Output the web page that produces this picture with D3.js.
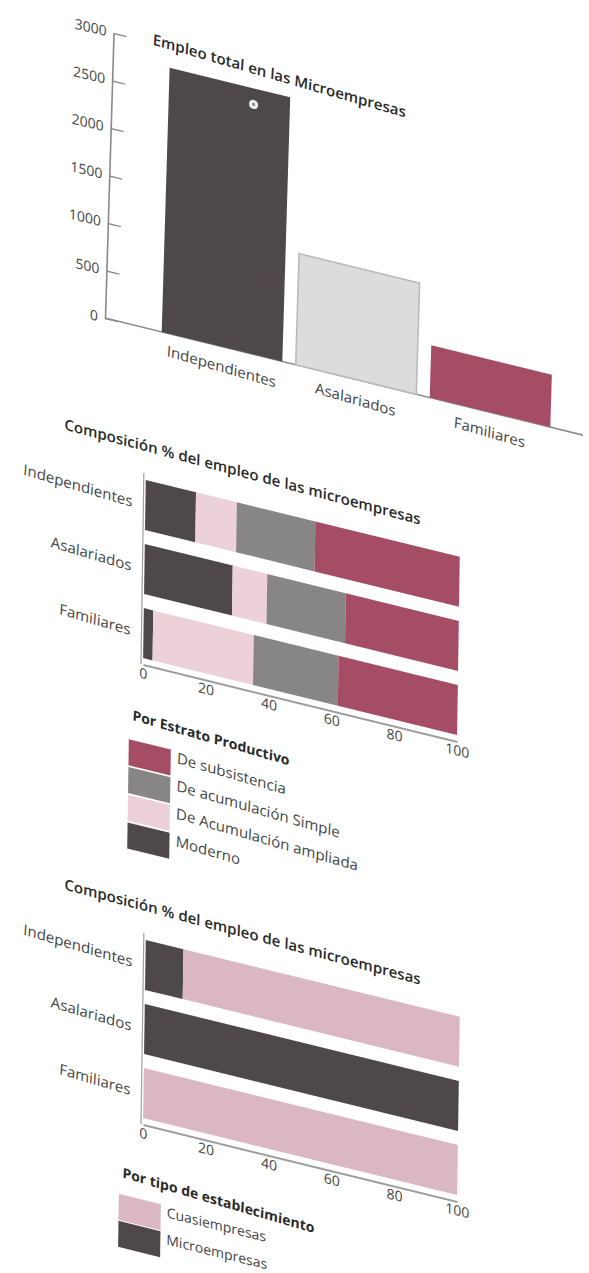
<!DOCTYPE html>
<html>
<head>
<meta charset="utf-8">
<script src="https://cdn.jsdelivr.net/npm/d3@7/dist/d3.min.js"></script>
<style>
  html, body { margin: 0; padding: 0; background: #ffffff; }
  svg { display: block; }
  text { font-family: "Open Sans", "DejaVu Sans", sans-serif; }
</style>
</head>
<body>
<svg id="page" width="589" height="1273"></svg>
<script>
// ---- data ----
const categories = ["Independientes", "Asalariados", "Familiares"];
const empleoTotal = [2780, 1170, 550];
const empleoTicks = [0, 500, 1000, 1500, 2000, 2500, 3000];

const estratos = ["Moderno", "De Acumulación ampliada", "De acumulación Simple", "De subsistencia"];
const moderno = [16, 28, 3];
const acumAmpliada = [13, 11, 32];
const acumSimple = [25, 25, 27];
const subsistencia = [46, 36, 38];

const tipos = ["Microempresas", "Cuasiempresas"];
const microempresas = [12, 100, 0];
const cuasiempresas = [88, 0, 100];

const pctTicks = [0, 20, 40, 60, 80, 100];

const titulo1 = "Empleo total en las Microempresas";
const titulo2 = "Composición % del empleo de las microempresas";
const leyenda2 = "Por Estrato Productivo";
const leyenda3 = "Por tipo de establecimiento";

// ---- styles ----
const C = {
  dark: "#4e4849",
  crimson: "#a64d66",
  gray: "#878585",
  pinkLight: "#ecd1d9",
  pink: "#dbb6c3",
  lightGray: "#dcdcdc",
  axis: "#8a8a8a",
  label: "#444444",
  title: "#2a2a2a"
};
const barColors1 = [C.dark, C.lightGray, C.crimson];
const estratoColors = [C.dark, C.pinkLight, C.gray, C.crimson];
const tipoColors = [C.dark, C.pink];

const svg = d3.select("#page");

// each panel is drawn in a flat frame, then sheared the way the printed page lies
function frame(ox, oy, slope, lean) {
  return svg.append("g").attr("transform", `matrix(1, ${slope}, ${lean}, 1, ${ox}, ${oy})`);
}
function tilt(sel, deg) {
  sel.attr("transform", function () {
    const x = +d3.select(this).attr("x") || 0;
    const y = +d3.select(this).attr("y") || 0;
    return `rotate(${deg}, ${x}, ${y})`;
  });
  return sel;
}

// ================= Chart 1: total employment =================
(function () {
  const g = frame(105, 318, 0.245, -0.03);
  const y = d3.scaleLinear().domain([0, 3000]).range([0, -285]);
  const x = d3.scaleBand().domain(categories).range([50, 452]).paddingInner(0.1).paddingOuter(0.05);

  // baseline
  g.append("line").attr("x1", 0).attr("x2", 478).attr("y1", 0).attr("y2", 0)
    .attr("stroke", C.axis).attr("stroke-width", 1.6);

  // bars
  g.selectAll("rect.bar").data(categories).join("rect")
    .attr("class", "bar")
    .attr("x", d => x(d))
    .attr("width", x.bandwidth())
    .attr("y", (d, i) => y(empleoTotal[i]))
    .attr("height", (d, i) => y(0) - y(empleoTotal[i]))
    .attr("fill", (d, i) => barColors1[i])
    .attr("stroke", (d, i) => i === 1 ? "#b9b9b9" : "none")
    .attr("stroke-width", 1.5);

  // note marker on the first bar
  const mx = x(categories[0]) + x.bandwidth() * 0.7;
  const my = y(empleoTotal[0]) + 16;
  g.append("circle").attr("cx", mx).attr("cy", my).attr("r", 4.5).attr("fill", "#eeeeee");
  g.append("circle").attr("cx", mx).attr("cy", my).attr("r", 1.6).attr("fill", "#8a8a8a");

  // y axis
  const ax = g.append("g").call(
    d3.axisLeft(y).tickValues(empleoTicks).tickFormat(d3.format("d"))
      .tickSize(-13).tickSizeOuter(0).tickPadding(7)
  );
  ax.select(".domain").attr("stroke", C.axis).attr("stroke-width", 1.6);
  ax.selectAll(".tick line").attr("stroke", C.axis).attr("stroke-width", 1.3);
  ax.selectAll(".tick text").attr("font-size", 14).attr("fill", C.label)
    .attr("font-family", "'Open Sans', 'DejaVu Sans', sans-serif");

  // category labels
  const lab = g.selectAll("text.cat").data(categories).join("text")
    .attr("class", "cat")
    .attr("x", d => x(d) + x.bandwidth() / 2)
    .attr("y", 20)
    .attr("dy", "0.35em")
    .attr("text-anchor", "middle")
    .attr("font-size", 15)
    .attr("fill", C.label)
    .text(d => d);
  tilt(lab, 2.5);

  const t = g.append("text").attr("x", 39).attr("y", -283)
    .attr("font-size", 15).attr("font-weight", 600).attr("fill", C.title).text(titulo1);
  tilt(t, 2.5);
})();

// ================= Percentage composition panels =================
function composition(oy, series, colors, legendTitle, legendItems, lx, lopt) {
  const g = frame(141, oy, 0.245, -0.015);
  const H = 191;
  const x = d3.scaleLinear().domain([0, 100]).range([2, 316]);
  const y = d3.scaleBand().domain(categories).range([-H, 0]).paddingInner(0.22).paddingOuter(0.1);

  const rows = categories.map((c, i) => {
    const r = { cat: c };
    series.forEach(s => { r[s.key] = s.values[i]; });
    return r;
  });
  const stacked = d3.stack().keys(series.map(s => s.key))(rows);

  g.selectAll("g.layer").data(stacked).join("g")
    .attr("class", "layer")
    .attr("fill", (d, i) => colors[i])
    .selectAll("rect").data(d => d).join("rect")
      .attr("x", d => x(d[0]))
      .attr("width", d => x(d[1]) - x(d[0]))
      .attr("y", d => y(d.data.cat))
      .attr("height", y.bandwidth());

  // axes
  g.append("line").attr("x1", 0).attr("x2", 0).attr("y1", -H).attr("y2", 0)
    .attr("stroke", "#a0a0a0").attr("stroke-width", 1.2);
  const ax = g.append("g").call(
    d3.axisBottom(x).tickValues(pctTicks).tickSize(0).tickPadding(4)
  );
  ax.select(".domain").attr("stroke", "#9c9c9c").attr("stroke-width", 2);
  ax.selectAll(".tick text").attr("font-size", 14).attr("fill", C.label)
    .attr("font-family", "'Open Sans', 'DejaVu Sans', sans-serif");

  // category labels
  const lab = g.selectAll("text.cat").data(categories).join("text")
    .attr("class", "cat")
    .attr("x", -11)
    .attr("y", d => y(d) + y.bandwidth() / 2)
    .attr("dy", "0.35em")
    .attr("text-anchor", "end")
    .attr("font-size", 15)
    .attr("fill", C.label)
    .text(d => d);
  tilt(lab, 3);

  const t = g.append("text").attr("x", -80).attr("y", -215)
    .attr("font-size", 15).attr("font-weight", 600).attr("fill", C.title).text(titulo2);
  tilt(t, 1.3);

  // legend
  const lg = g.append("g");
  const lt = lg.append("text").attr("x", lx + 3).attr("y", 58)
    .attr("font-size", 14).attr("font-weight", 700).attr("fill", C.title).text(legendTitle);
  tilt(lt, 2.5);
  legendItems.forEach((it, i) => {
    const top = lopt.top + i * lopt.step;
    lg.append("rect").attr("x", lx).attr("y", top).attr("width", 42).attr("height", 26)
      .attr("fill", it.color);
    const tx = lg.append("text").attr("x", lx + 48).attr("y", top + 12)
      .attr("font-size", lopt.size).attr("fill", C.label).text(it.label);
    tilt(tx, lopt.tilt);
  });
}

composition(
  664,
  [
    { key: estratos[0], values: moderno },
    { key: estratos[1], values: acumAmpliada },
    { key: estratos[2], values: acumSimple },
    { key: estratos[3], values: subsistencia }
  ],
  estratoColors,
  leyenda2,
  [
    { label: "De subsistencia", color: C.crimson },
    { label: "De acumulación Simple", color: C.gray },
    { label: "De Acumulación ampliada", color: C.pinkLight },
    { label: "Moderno", color: C.dark }
  ],
  -11,
  { top: 78, step: 27.7, size: 15, tilt: 2.5 }
);

composition(
  1124,
  [
    { key: tipos[0], values: microempresas },
    { key: tipos[1], values: cuasiempresas }
  ],
  tipoColors,
  leyenda3,
  [
    { label: "Cuasiempresas", color: C.pink },
    { label: "Microempresas", color: C.dark }
  ],
  -21,
  { top: 75, step: 27, size: 14, tilt: 0 }
);
</script>
</body>
</html>
